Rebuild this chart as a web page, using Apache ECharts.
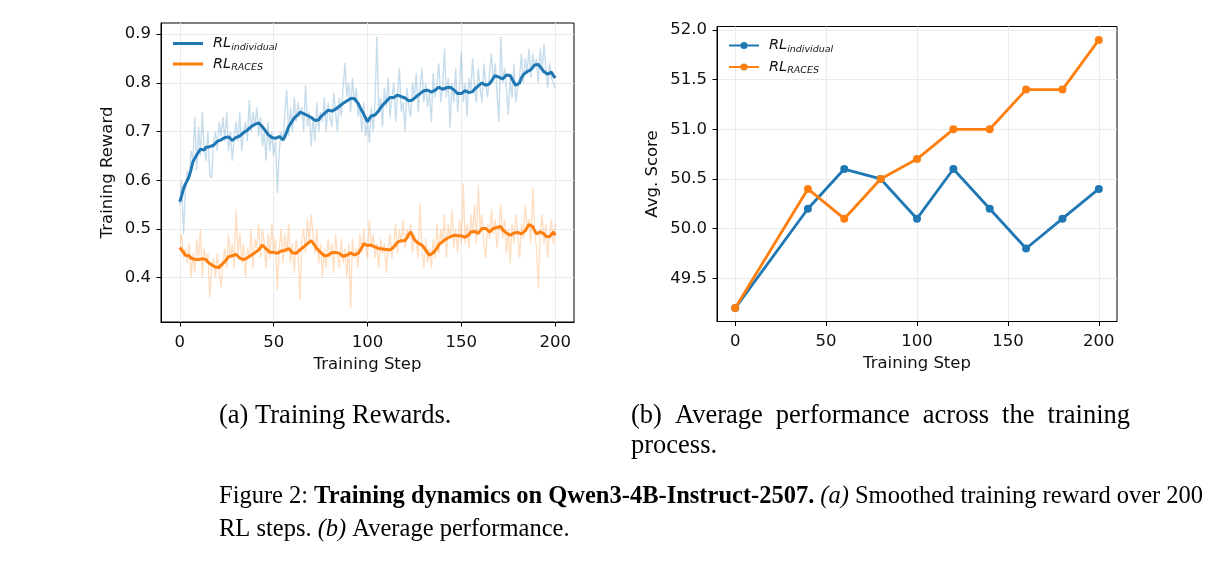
<!DOCTYPE html>
<html><head><meta charset="utf-8">
<script src="https://cdn.jsdelivr.net/npm/echarts@6/dist/echarts.min.js"></script>
<style>html,body{margin:0;padding:0;background:#fff}#c{width:1219px;height:563px}</style>
</head><body><div id="c"></div>
<script>
// ---------- data ----------
const rawIndividual = [
.55,.60,.49,.58,.62,.60,.66,.64,.73,.62,.71,.65,.74,.66,.64,.70,.61,.605,.68,.70,
.66,.72,.69,.73,.68,.74,.66,.70,.64,.69,.72,.68,.74,.66,.70,.72,.68,.765,.70,.74,
.71,.75,.69,.73,.67,.70,.64,.72,.66,.70,.65,.68,.574,.66,.70,.68,.74,.786,.69,.75,
.70,.77,.72,.76,.73,.75,.70,.796,.71,.74,.67,.73,.68,.76,.70,.74,.72,.77,.70,.76,
.73,.71,.78,.74,.70,.77,.73,.79,.841,.77,.80,.74,.81,.76,.79,.73,.75,.70,.76,.69,
.72,.677,.75,.70,.76,.895,.74,.77,.71,.79,.75,.81,.73,.77,.80,.72,.78,.83,.74,.76,
.70,.79,.75,.73,.80,.77,.82,.74,.79,.83,.76,.80,.75,.78,.72,.82,.77,.80,.84,.76,
.79,.87,.77,.81,.708,.80,.76,.83,.74,.79,.865,.76,.80,.73,.81,.78,.85,.79,.76,.83,
.79,.76,.84,.80,.77,.82,.86,.80,.84,.78,.72,.895,.80,.83,.79,.734,.81,.77,.84,.76,
.79,.81,.86,.80,.85,.82,.87,.81,.86,.83,.85,.80,.87,.82,.88,.83,.79,.84,.81,.80,
.79];
const rawRACES = [
.47,.49,.44,.46,.43,.47,.40,.45,.41,.48,.44,.50,.40,.46,.43,.45,.36,.42,.44,.40,
.45,.41,.38,.43,.46,.42,.49,.44,.47,.42,.54,.45,.49,.43,.47,.40,.46,.44,.50,.42,
.48,.46,.51,.44,.50,.47,.42,.49,.44,.51,.45,.48,.374,.46,.50,.43,.49,.45,.51,.43,
.47,.41,.48,.45,.354,.48,.50,.45,.52,.47,.53,.49,.45,.50,.43,.47,.40,.46,.42,.48,
.44,.47,.41,.49,.45,.42,.48,.43,.46,.40,.47,.337,.48,.44,.46,.42,.49,.45,.50,.46,
.44,.518,.46,.49,.44,.47,.42,.48,.45,.47,.41,.46,.49,.44,.47,.51,.45,.50,.47,.52,
.46,.50,.48,.51,.45,.49,.47,.44,.553,.46,.42,.48,.43,.46,.42,.48,.44,.51,.45,.50,
.47,.53,.44,.51,.48,.54,.46,.50,.45,.52,.47,.594,.47,.51,.46,.53,.49,.55,.47,.59,
.50,.53,.47,.44,.51,.48,.54,.49,.52,.46,.50,.55,.48,.52,.45,.50,.43,.51,.47,.53,
.49,.44,.51,.48,.55,.50,.52,.47,.584,.50,.46,.378,.49,.53,.47,.51,.44,.49,.52,.47,
.51];
const smoothIndividual = [
.556,.568,.583,.592,.600,.608,.622,.638,.645,.652,.658,.664,.666,.662,.668,.667,.669,.666,.672,.676,
.680,.684,.683,.687,.688,.685,.689,.686,.682,.683,.688,.686,.691,.694,.698,.700,.703,.706,.710,.712,
.715,.716,.718,.714,.710,.706,.700,.694,.690,.688,.686,.686,.689,.690,.686,.683,.690,.700,.710,.716,
.722,.728,.731,.735,.740,.741,.737,.734,.733,.732,.729,.726,.723,.720,.724,.730,.734,.737,.740,.744,
.745,.742,.741,.746,.750,.752,.755,.758,.762,.763,.766,.768,.771,.768,.765,.758,.750,.743,.736,.728,
.720,.727,.732,.730,.734,.738,.743,.749,.754,.757,.762,.766,.770,.772,.770,.774,.775,.775,.772,.770,
.769,.766,.763,.762,.765,.769,.772,.775,.778,.781,.784,.786,.785,.783,.781,.782,.785,.789,.791,.789,
.787,.788,.790,.792,.791,.789,.786,.782,.778,.775,.778,.781,.784,.783,.780,.778,.782,.787,.791,.794,
.797,.800,.798,.795,.793,.798,.804,.810,.815,.814,.812,.813,.808,.812,.816,.819,.815,.808,.801,.795,
.793,.800,.810,.817,.820,.823,.826,.827,.832,.837,.841,.838,.833,.828,.823,.822,.818,.820,.822,.815,
.810];
const smoothRACES = [
.462,.458,.452,.446,.443,.445,.440,.437,.438,.441,.437,.440,.439,.435,.437,.432,.430,.426,.424,.422,
.424,.421,.426,.429,.433,.438,.443,.441,.445,.447,.448,.444,.440,.442,.437,.439,.441,.444,.446,.448,
.451,.453,.457,.462,.467,.463,.459,.455,.452,.455,.452,.453,.450,.454,.455,.452,.456,.459,.460,.456,
.451,.448,.450,.454,.457,.460,.463,.467,.470,.473,.476,.472,.466,.460,.456,.452,.448,.445,.443,.446,
.448,.451,.449,.452,.453,.450,.447,.444,.443,.446,.448,.451,.449,.447,.450,.450,.453,.462,.470,.468,
.466,.465,.467,.466,.463,.461,.460,.462,.459,.460,.458,.460,.457,.458,.463,.468,.473,.477,.476,.479,
.476,.482,.489,.494,.486,.478,.474,.471,.469,.467,.462,.457,.451,.446,.449,.451,.453,.460,.468,.471,
.474,.477,.480,.483,.484,.486,.487,.488,.486,.485,.486,.485,.483,.481,.488,.494,.498,.495,.492,.491,
.496,.501,.505,.501,.497,.494,.497,.501,.505,.503,.504,.505,.498,.495,.492,.489,.487,.489,.492,.494,
.493,.491,.490,.491,.496,.503,.509,.512,.505,.497,.490,.492,.494,.494,.490,.485,.481,.484,.489,.494,
.487];
const evalSteps = [0, 40, 60, 80, 100, 120, 140, 160, 180, 200];
const evalIndividual = [49.2, 50.2, 50.6, 50.5, 50.1, 50.6, 50.2, 49.8, 50.1, 50.4];
const evalRACES = [49.2, 50.4, 50.1, 50.5, 50.7, 51.0, 51.0, 51.4, 51.4, 51.9];
const xTicks = [0, 50, 100, 150, 200];
const yTicksReward = [0.4, 0.5, 0.6, 0.7, 0.8, 0.9];
const yTicksScore = [49.5, 50.0, 50.5, 51.0, 51.5, 52.0];

// ---------- chart ----------
const BLUE = '#1f77b4', ORANGE = '#ff7f0e';
const F = 'DejaVu Sans';
const SERIF = 'Liberation Serif';
const TICK = 16.5;
const steps = rawIndividual.map((_, i) => i);
const pairs = (xs, ys) => ys.map((v, i) => [xs[i], v]);

function xAxis(gi) {
  return {
    type: 'value', gridIndex: gi, min: -10, max: 210,
    name: 'Training Step', nameLocation: 'middle', nameGap: 34,
    nameTextStyle: {fontFamily: F, fontSize: TICK, color: '#111'},
    axisLine: {show: true, onZero: false, lineStyle: {color: '#000', width: 1}},
    axisTick: {show: true, length: 4.5, lineStyle: {color: '#000', width: 1}, customValues: xTicks},
    axisLabel: {customValues: xTicks, fontFamily: F, fontSize: TICK, color: '#111', margin: 12},
    splitLine: {show: true, lineStyle: {color: '#ebebeb', width: 1}}
  };
}
function yAxis(gi, min, max, ticks, name, gap) {
  return {
    type: 'value', gridIndex: gi, min: min, max: max,
    name: name, nameLocation: 'middle', nameGap: gap,
    nameTextStyle: {fontFamily: F, fontSize: TICK, color: '#111'},
    axisLine: {show: true, onZero: false, lineStyle: {color: '#000', width: 1}},
    axisTick: {show: true, length: 4.5, lineStyle: {color: '#000', width: 1}, customValues: ticks},
    axisLabel: {customValues: ticks, fontFamily: F, fontSize: TICK, color: '#111', margin: 10,
      formatter: v => Number(v).toFixed(1)},
    splitLine: {show: true, lineStyle: {color: '#ebebeb', width: 1}}
  };
}
const rich = {
  a: {fontFamily: F, fontSize: 14.5, fontStyle: 'italic', color: '#111', padding: [0, 0, 0, 5]},
  b: {fontFamily: F, fontSize: 9.5, fontStyle: 'italic', color: '#111', padding: [8, 0, 0, 0]}
};
const legendFmt = n => n === 'RL individual' ? '{a|RL}{b|individual}' : '{a|RL}{b|RACES}';

// ---------- caption helpers (justified lines) ----------
const mctx = document.createElement('canvas').getContext('2d');
const SIZE = 24.5;      // figure caption
const SUB = 26.5;       // sub-captions
function fontOf(st, size) {
  return (st === 'i' ? 'italic ' : '') + (st === 'b' ? 'bold ' : '') + (size || SIZE) + 'px "' + SERIF + '"';
}
function justify(tokens, x0, x1, y, size) {
  const ws = tokens.map(([t, st]) => { mctx.font = fontOf(st, size); return mctx.measureText(t).width; });
  const total = ws.reduce((a, b) => a + b, 0);
  const gap = (x1 - x0 - total) / (tokens.length - 1);
  let x = x0;
  return tokens.map(([t, st], i) => {
    const el = {type: 'text', x: x, y: y, style: {text: t, font: fontOf(st, size), fill: '#000', verticalAlign: 'middle'}};
    x += ws[i] + gap;
    return el;
  });
}
const capB1 = [['(b)','n'],['Average','n'],['performance','n'],['across','n'],['the','n'],['training','n']];
const fig1 = [['Figure','n'],['2:','n'],['Training','b'],['dynamics','b'],['on','b'],['Qwen3-4B-Instruct-2507.','b'],
  ['(a)','i'],['Smoothed','n'],['training','n'],['reward','n'],['over','n'],['200','n']];

const option = {
  backgroundColor: '#fff',
  animation: false,
  grid: [
    {left: 161, top: 23, width: 413, height: 299, show: true, borderColor: '#000', borderWidth: 1, containLabel: false},
    {left: 717, top: 26.5, width: 400, height: 295, show: true, borderColor: '#000', borderWidth: 1, containLabel: false}
  ],
  xAxis: [xAxis(0), xAxis(1)],
  yAxis: [
    yAxis(0, 0.309, 0.923, yTicksReward, 'Training Reward', 45),
    yAxis(1, 49.065, 52.035, yTicksScore, 'Avg. Score', 56)
  ],
  legend: [
    {orient: 'vertical', left: 168, top: 31, itemWidth: 30, itemHeight: 3, itemGap: 4, icon: 'rect',
     data: ['RL individual', 'RL RACES'], formatter: legendFmt, textStyle: {rich: rich}},
    {orient: 'vertical', left: 723, top: 33, itemWidth: 30, itemHeight: 9, itemGap: 5,
     data: ['RL individual ', 'RL RACES '], formatter: n => legendFmt(n.trim()), textStyle: {rich: rich}}
  ],
  series: [
    {type: 'line', name: 'raw individual', xAxisIndex: 0, yAxisIndex: 0, symbol: 'none',
     data: pairs(steps, rawIndividual), lineStyle: {color: BLUE, width: 1.4, opacity: 0.25}, itemStyle: {color: BLUE}, z: 2},
    {type: 'line', name: 'raw RACES', xAxisIndex: 0, yAxisIndex: 0, symbol: 'none',
     data: pairs(steps, rawRACES), lineStyle: {color: ORANGE, width: 1.4, opacity: 0.25}, itemStyle: {color: ORANGE}, z: 2},
    {type: 'line', name: 'RL individual', xAxisIndex: 0, yAxisIndex: 0, symbol: 'none',
     data: pairs(steps, smoothIndividual), lineStyle: {color: BLUE, width: 3}, itemStyle: {color: BLUE}, z: 3},
    {type: 'line', name: 'RL RACES', xAxisIndex: 0, yAxisIndex: 0, symbol: 'none',
     data: pairs(steps, smoothRACES), lineStyle: {color: ORANGE, width: 3}, itemStyle: {color: ORANGE}, z: 3},
    {type: 'line', name: 'RL individual ', xAxisIndex: 1, yAxisIndex: 1, symbol: 'circle', symbolSize: 8,
     data: pairs(evalSteps, evalIndividual), lineStyle: {color: BLUE, width: 2.8}, itemStyle: {color: BLUE}, z: 3},
    {type: 'line', name: 'RL RACES ', xAxisIndex: 1, yAxisIndex: 1, symbol: 'circle', symbolSize: 8,
     data: pairs(evalSteps, evalRACES), lineStyle: {color: ORANGE, width: 2.8}, itemStyle: {color: ORANGE}, z: 3}
  ],
  graphic: [
    {type: 'text', x: 219, y: 416, style: {text: '(a) Training Rewards.', font: fontOf('n', SUB), fill: '#000', verticalAlign: 'middle'}},
    ...justify(capB1, 631, 1130, 416, SUB),
    {type: 'text', x: 631, y: 446, style: {text: 'process.', font: fontOf('n', SUB), fill: '#000', verticalAlign: 'middle'}},
    ...justify(fig1, 219, 1203, 497),
    {type: 'text', x: 219, y: 530, style: {
      text: '{n|RL steps. }{i|(b)}{n| Average performance.}',
      font: fontOf('n'), fill: '#000', verticalAlign: 'middle',
      rich: {n: {fontFamily: SERIF, fontSize: SIZE}, i: {fontFamily: SERIF, fontSize: SIZE, fontStyle: 'italic'}}}}
  ]
};
const chart = echarts.init(document.getElementById('c'));
chart.setOption(option);
</script>
</body></html>
